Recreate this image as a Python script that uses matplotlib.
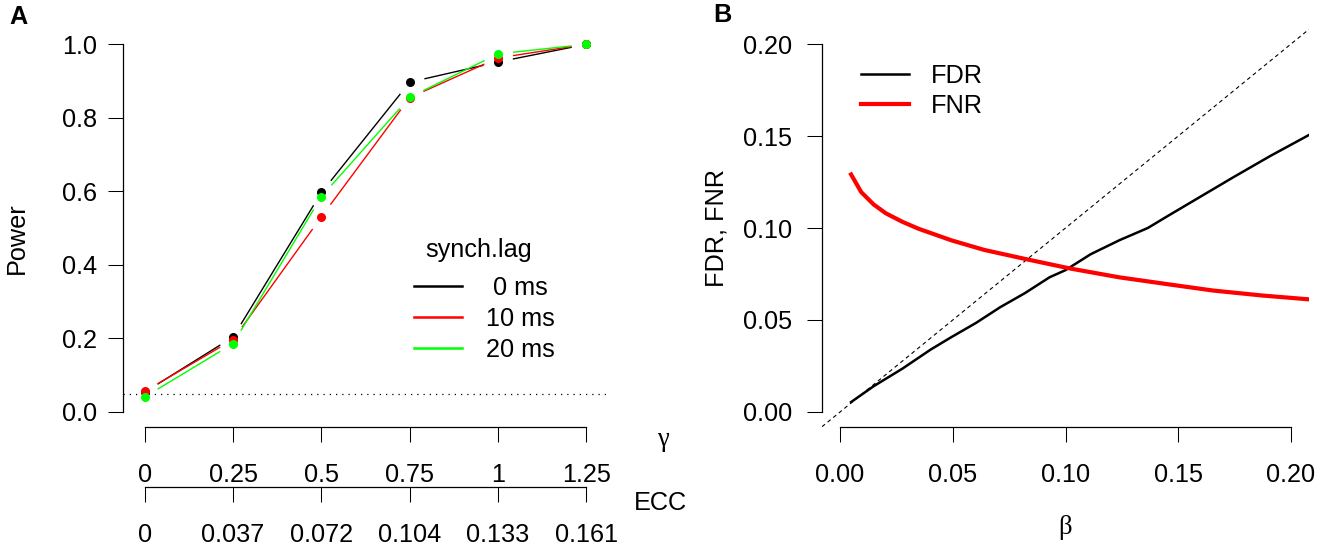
import numpy as np
import matplotlib.pyplot as plt
from matplotlib.lines import Line2D

plt.rcParams['font.family'] = ['Liberation Sans', 'DejaVu Sans']

# ---- data panel A (power vs gamma, per synch lag)
gamma = [0, 0.25, 0.5, 0.75, 1.0, 1.25]
gamma_labels = ['0', '0.25', '0.5', '0.75', '1', '1.25']
ecc_labels = ['0', '0.037', '0.072', '0.104', '0.133', '0.161']
power_0ms = [0.054, 0.204, 0.597, 0.897, 0.952, 1.0]
power_10ms = [0.056, 0.197, 0.531, 0.855, 0.963, 1.0]
power_20ms = [0.041, 0.186, 0.586, 0.856, 0.974, 1.0]
lag_names = [' 0 ms', '10 ms', '20 ms']
alpha_level = 0.05

# ---- data panel B (FDR / FNR vs beta)
beta_fdr = [0.0049, 0.0149, 0.0276, 0.0403, 0.0494, 0.0603, 0.0711, 0.0820, 0.0929,
            0.1000, 0.1111, 0.1238, 0.1365, 0.1456, 0.1601, 0.1746, 0.1909, 0.2082]
fdr = [0.0054, 0.0140, 0.0235, 0.0340, 0.0407, 0.0484, 0.0570, 0.0646, 0.0732,
       0.0771, 0.0857, 0.0933, 0.1000, 0.1067, 0.1172, 0.1277, 0.1392, 0.1507]
beta_fnr = [0.0049, 0.0094, 0.0149, 0.0203, 0.0276, 0.0348, 0.0494, 0.0639, 0.0820,
            0.1020, 0.1238, 0.1456, 0.1655, 0.1873, 0.2082]
fnr = [0.1291, 0.1195, 0.1128, 0.1080, 0.1034, 0.0996, 0.0933, 0.0881, 0.0832,
       0.0780, 0.0732, 0.0694, 0.0660, 0.0633, 0.0612]

W, H = 1331, 550
FS = 18.2
fig = plt.figure(figsize=(W / 100, H / 100), dpi=100)


def px_box(x0, y0, x1, y1):
    # pixel box of plot region -> figure fraction
    return [x0 / W, 1 - y1 / H, (x1 - x0) / W, (y1 - y0) / H]


def r_style(ax, xb, yb, ypad):
    for s in ['top', 'right']:
        ax.spines[s].set_visible(False)
    ax.spines['left'].set_bounds(*yb)
    ax.spines['bottom'].set_bounds(*xb)
    for s in ['left', 'bottom']:
        ax.spines[s].set_linewidth(0.9)
    ax.tick_params(axis='both', length=10.8, width=0.75, labelsize=FS)
    ax.tick_params(axis='x', pad=15)
    ax.tick_params(axis='y', pad=ypad)


def gapped_line(ax, x, y, color, gap=15, lw=1.0):
    # R type="b": line segments stop short of the points
    pts = ax.transData.transform(np.column_stack([x, y]))
    inv = ax.transData.inverted()
    for p, q in zip(pts[:-1], pts[1:]):
        d = q - p
        L = np.hypot(*d)
        if L <= 2 * gap:
            continue
        u = d / L
        a, b = inv.transform([p + u * gap, q - u * gap])
        ax.plot([a[0], b[0]], [a[1], b[1]], color=color, lw=lw, solid_capstyle='butt')


# ================= panel A
axA = fig.add_axes(px_box(122.7, 29.6, 608.5, 426.7))
xpad = 18 / 288.2
axA.set_xlim(-xpad, 1.25 + xpad)
axA.set_ylim(-0.04, 1.04)
r_style(axA, (0, 1.25), (0, 1), 7.5)
axA.set_xticks(gamma)
axA.set_xticklabels(gamma_labels)
axA.set_yticks([0, 0.2, 0.4, 0.6, 0.8, 1.0])
axA.set_yticklabels(['0.0', '0.2', '0.4', '0.6', '0.8', '1.0'])

axA.axhline(alpha_level, color='black', lw=0.9, linestyle=(0, (1, 4)))

colors = ['black', '#FF0000', '#00FF00']
series = [power_0ms, power_10ms, power_20ms]
for vals, c in zip(series, colors):
    gapped_line(axA, gamma, vals, c, lw=1.0)
for vals, c in zip(series, colors):
    axA.plot(gamma, vals, 'o', color=c, ms=6.5, mew=0)

handles = [Line2D([], [], color=c, lw=1.8) for c in colors]
axA.legend(handles, lag_names, frameon=False, fontsize=FS,
           handlelength=1.9, handletextpad=0.95,
           labelspacing=0.27, borderpad=0, borderaxespad=0, loc='center',
           bbox_to_anchor=(484.5 / W, 1 - 319 / H), bbox_transform=fig.transFigure)
fig.text(479 / W, 1 - 250 / H, 'synch.lag', fontsize=FS, ha='center', va='center')

# second x axis with ECC values
axE = axA.twiny()
axE.set_xlim(axA.get_xlim())
axE.xaxis.set_ticks_position('bottom')
axE.spines['bottom'].set_position(('outward', 43.2))
for s in ['top', 'right', 'left']:
    axE.spines[s].set_visible(False)
axE.spines['bottom'].set_bounds(0, 1.25)
axE.spines['bottom'].set_linewidth(0.9)
axE.set_xticks(gamma)
axE.set_xticklabels(ecc_labels)
axE.tick_params(axis='x', length=10.8, width=0.75, labelsize=FS, pad=15.5)
axE.patch.set_visible(False)

fig.text(663 / W, 1 - 440 / H, 'γ', fontsize=FS + 1, family=['Liberation Serif', 'DejaVu Serif'],
         ha='center', va='center')
fig.text(660 / W, 1 - 503 / H, 'ECC', fontsize=FS, ha='center', va='center')
fig.text(17 / W, 1 - 238 / H, 'Power', fontsize=FS, rotation=90, ha='center', va='center')
fig.text(18 / W, 1 - 17.5 / H, 'A', fontsize=FS, fontweight='bold', ha='center', va='center')

# ================= panel B
axB = fig.add_axes(px_box(822, 29.3, 1309, 426.7))
axB.set_xlim(-0.008, 0.208)
axB.set_ylim(-0.008, 0.208)
r_style(axB, (0, 0.2), (0, 0.2), 10.5)
ticksB = [0, 0.05, 0.10, 0.15, 0.20]
labelsB = ['0.00', '0.05', '0.10', '0.15', '0.20']
axB.set_xticks(ticksB)
axB.set_xticklabels(labelsB)
axB.set_yticks(ticksB)
axB.set_yticklabels(labelsB)

axB.axline((0, 0), slope=1, color='black', lw=0.8, linestyle=(0, (3.5, 3)))
axB.plot(beta_fdr, fdr, color='black', lw=1.8, label='FDR')
axB.plot(beta_fnr, fnr, color='#FF0000', lw=3.0, label='FNR')
axB.legend(frameon=False, fontsize=FS, handlelength=1.9, handletextpad=0.85,
           labelspacing=0.24, borderpad=0, borderaxespad=0, loc='center',
           bbox_to_anchor=(922 / W, 1 - 91 / H), bbox_transform=fig.transFigure)

fig.text(1065 / W, 1 - 527 / H, 'β', fontsize=FS + 1, family=['Liberation Serif', 'DejaVu Serif'],
         ha='center', va='center')
fig.text(716.5 / W, 1 - 228 / H, 'FDR, FNR', fontsize=FS, rotation=90, ha='center', va='center')
fig.text(722.6 / W, 1 - 15.2 / H, 'B', fontsize=FS, fontweight='bold', ha='center', va='center')

fig.savefig('out.png', dpi=100)
